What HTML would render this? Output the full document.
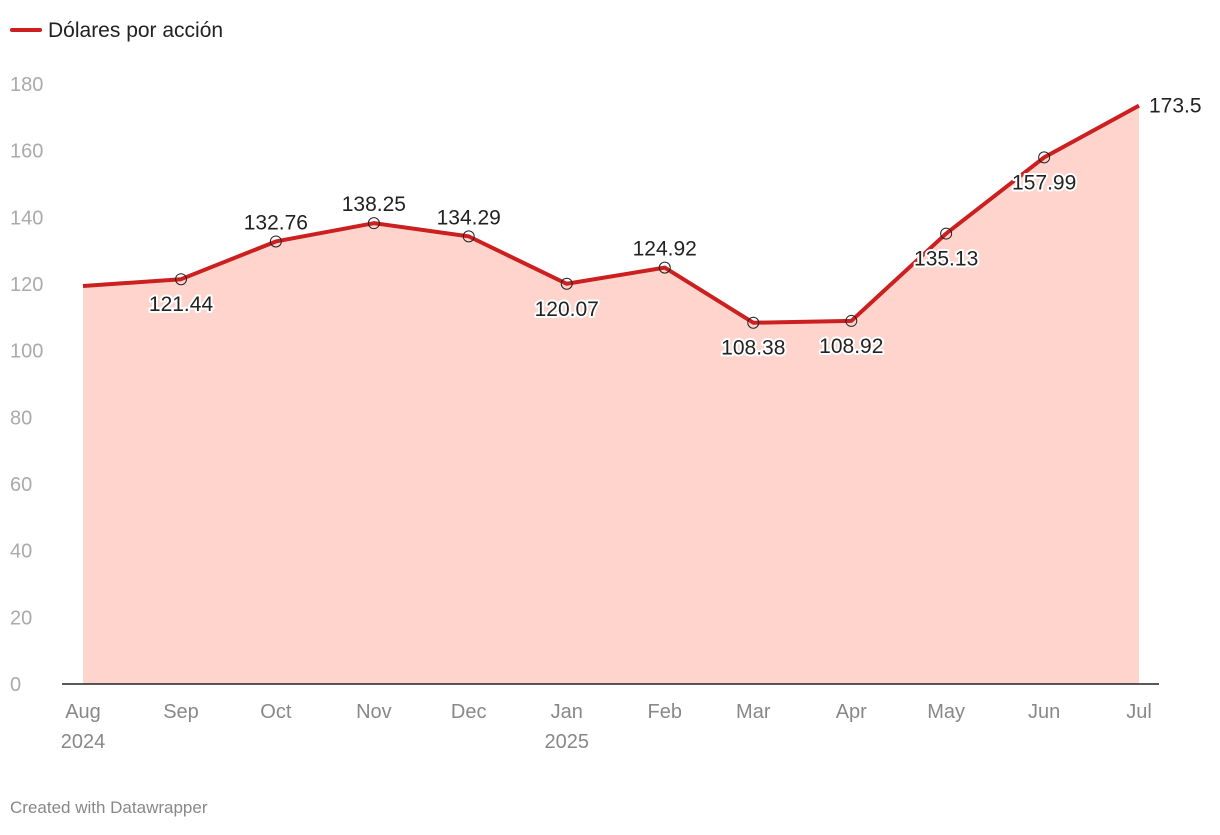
<!DOCTYPE html>
<html><head><meta charset="utf-8"><style>
html,body{margin:0;padding:0;background:#fff;}
body{width:1220px;height:830px;overflow:hidden;font-family:"Liberation Sans",sans-serif;}
svg text{font-family:"Liberation Sans",sans-serif;}
.halo{paint-order:stroke;stroke:#fff;stroke-width:4px;stroke-linejoin:round;}
</style></head><body>
<svg id="chart" width="1220" height="830" xmlns="http://www.w3.org/2000/svg">
<g>
<line x1="12" y1="30" x2="40" y2="30" stroke="#cc1f1f" stroke-width="4" stroke-linecap="round"/>
<text x="48" y="37" font-size="21" fill="#222">Dólares por acción</text>
</g>
<g id="yaxis"></g>
<g id="area"></g>
<g id="xaxis"></g>
<g id="marks"></g>
<text x="10" y="813" font-size="17" fill="#888">Created with Datawrapper</text>
</svg>
<script>
const months = ["Aug","Sep","Oct","Nov","Dec","Jan","Feb","Mar","Apr","May","Jun","Jul"];
const years = ["2024","","","","","2025","","","","","",""];
const dates = ["2024-08-01","2024-09-01","2024-10-01","2024-11-01","2024-12-01","2025-01-01","2025-02-01","2025-03-01","2025-04-01","2025-05-01","2025-06-01","2025-07-01"];
const values = [119.4,121.44,132.76,138.25,134.29,120.07,124.92,108.38,108.92,135.13,157.99,173.5];
const valueLabels = ["","121.44","132.76","138.25","134.29","120.07","124.92","108.38","108.92","135.13","157.99","173.5"];
const labelPos = ["none","below","above","above","above","below","above","below","below","below","below","right"];
const yTicks = [0,20,40,60,80,100,120,140,160,180];

const NS="http://www.w3.org/2000/svg";
const t0=Date.parse(dates[0]), t1=Date.parse(dates[dates.length-1]);
const X0=83,X1=1139,Y0=684,Y1=84,YMAX=180;
const xs=d=>X0+(Date.parse(d)-t0)/(t1-t0)*(X1-X0);
const ys=v=>Y0-(v/YMAX)*(Y0-Y1);
function mk(tag,attrs,parent){const e=document.createElementNS(NS,tag);for(const k in attrs)e.setAttribute(k,attrs[k]);parent.appendChild(e);return e;}

const ya=document.getElementById('yaxis');
yTicks.forEach(v=>{
  const t=mk('text',{x:10,y:ys(v)+7,'font-size':20,fill:'#aaa'},ya);
  
  
  t.textContent=v;
});

const ar=document.getElementById('area');
let dA=`M${xs(dates[0])},${Y0}`;
dates.forEach((d,i)=>{dA+=` L${xs(d)},${ys(values[i])}`;});
dA+=` L${xs(dates[dates.length-1])},${Y0} Z`;
const area=mk('path',{d:dA,fill:'#ffd4cd'},ar);



const xa=document.getElementById('xaxis');
const base=mk('line',{x1:62,x2:1159,y1:Y0,y2:Y0,stroke:'#222','stroke-width':1.5},xa);


months.forEach((m,i)=>{
  const x=xs(dates[i]);
  const t=mk('text',{x:x,y:718,'font-size':20,fill:'#888','text-anchor':'middle'},xa);
  
  
  t.textContent=m;
  if(years[i]){
    const y=mk('text',{x:x,y:748,'font-size':20,fill:'#888','text-anchor':'middle'},xa);
    
    
    y.textContent=years[i];
  }
});

const mg=document.getElementById('marks');
const line=mk('polyline',{points:dates.map((d,i)=>xs(d)+','+ys(values[i])).join(' '),fill:'none',stroke:'#cc1f1f','stroke-width':4,'stroke-linejoin':'round'},mg);


dates.forEach((d,i)=>{
  const x=xs(d),y=ys(values[i]);
  if(i>0&&i<dates.length-1){
    const c=mk('circle',{cx:x,cy:y,r:5.5,fill:'none',stroke:'#222','stroke-width':1},mg);
    
    
  }
  const p=labelPos[i]; if(p==='none')return;
  let a={x:x,y:y,'font-size':21,fill:'#222','text-anchor':'middle',class:'halo'};
  if(p==='above')a.y=y-12;
  else if(p==='below')a.y=y+32;
  else {a.x=x+10;a.y=y+7;a['text-anchor']='start';}
  const t=mk('text',a,mg);
  
  
  t.textContent=valueLabels[i];
});
</script>
</body></html>
